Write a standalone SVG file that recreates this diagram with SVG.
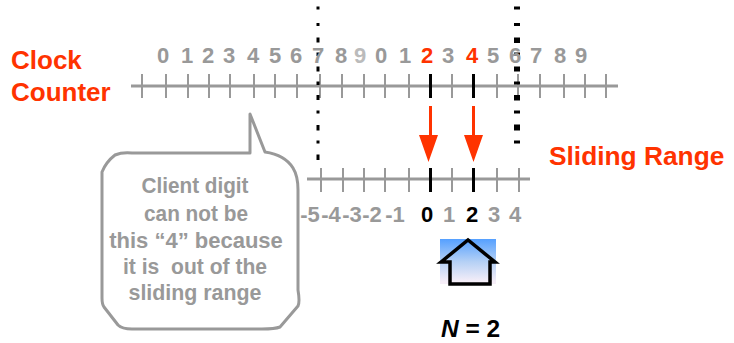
<svg xmlns="http://www.w3.org/2000/svg" width="734" height="343" viewBox="0 0 734 343">
<style>
text{font-family:"Liberation Sans",Arial,sans-serif;font-weight:700}
.d{font-size:22px;fill:#999;text-anchor:middle}
.l{font-size:26px;fill:#ff3300}
.c{font-size:22px;fill:#999;text-anchor:middle;white-space:pre}
.ax{stroke:#999;stroke-width:3;fill:none}
.t{stroke:#999;stroke-width:2;fill:none}
.k{stroke:#000;stroke-width:3;fill:none}
</style>
<defs>
<linearGradient id="sky" x1="0" y1="0" x2="0" y2="1">
<stop offset="0" stop-color="#55a0ff"/><stop offset="0.5" stop-color="#b4d0f5"/><stop offset="0.95" stop-color="#f6eef8"/>
</linearGradient>
</defs>
<rect width="734" height="343" fill="#fff"/>
<g id="connectors">
<path class="ax" d="M131 86H618"/>
<path class="t" d="M142 74V98M166 74V98M188 74V98M209 74V98M230 74V98M254 74V98M275 74V98M297 74V98M320 74V98M342 74V98M364 74V98M385 74V98M409 74V98M452 74V98M497 74V98M518 74V98M540 74V98M564 74V98M585 74V98M606 74V98"/>
<path class="k" d="M430.500 74V98M473.500 74V98"/>
<path class="ax" d="M307 179H530"/>
<path class="t" d="M321 168V192M343 168V192M364 168V192M385 168V192M409 168V192M452 168V192M497 168V192M519 168V192"/>
<path class="k" d="M430.500 168V192M473.500 168V192"/>
<path stroke="#000" stroke-width="3" fill="none" d="M318 6.500V9.500M318 23V26M318 37.500V42.500M318 52.500V56M318 66.500V71.500M318 81.500V85M318 95V100M318 110.500V113.500M318 125V130.500M318 140.500V143.500M318 154.500V160"/>
<path stroke="#000" stroke-width="6" fill="none" d="M517 6.500V9.500M517 23V26M517 37.500V43M517 52.500V55.500M517 66.500V71.500M517 81.500V84.500M517 95V100.500M517 110.500V113.500M517 124.500V130.500M517 140.500V143.500"/>
<path stroke="#ff3300" stroke-width="3" fill="none" d="M430.500 106V136M473.500 106V136"/>
<path fill="#ff3300" d="M419 135H438L428.500 162ZM464 135H483L473.500 162Z"/>
</g>
<g id="clock-counter-label">
<text class="l" x="11" y="69">Clock</text>
<text class="l" x="11" y="101">Counter</text>
</g>
<g id="clock-digits">
<text class="d" x="163" y="63">0</text><text class="d" x="187" y="63">1</text><text class="d" x="208" y="63">2</text><text class="d" x="229" y="63">3</text><text class="d" x="253" y="63">4</text><text class="d" x="275" y="63">5</text><text class="d" x="296" y="63">6</text><text class="d" x="318" y="63">7</text><text class="d" x="341" y="63">8</text><text class="d" x="360" y="63" style="fill:#bbb">9</text>
<text class="d" x="381" y="63">0</text><text class="d" x="405" y="63">1</text><text class="d" x="427" y="63" style="fill:#ff3300">2</text><text class="d" x="448" y="63">3</text><text class="d" x="472" y="63" style="fill:#ff3300">4</text><text class="d" x="493" y="63">5</text><text class="d" x="515" y="63">6</text><text class="d" x="536" y="63">7</text><text class="d" x="560" y="63">8</text><text class="d" x="581" y="63">9</text>
</g>
<g id="sliding-range-label"><text class="l" x="549" y="165" style="font-size:26.300px">Sliding Range</text></g>
<g id="sliding-digits">
<text class="d" x="310" y="222">-5</text><text class="d" x="331" y="222">-4</text><text class="d" x="352" y="222">-3</text><text class="d" x="372" y="222">-2</text><text class="d" x="395" y="222">-1</text>
<text class="d" x="427" y="222" style="fill:#000">0</text><text class="d" x="449" y="222">1</text><text class="d" x="472" y="222" style="fill:#000">2</text><text class="d" x="494" y="222">3</text><text class="d" x="515" y="222">4</text>
</g>
<g id="callout">
<path fill="#fff" stroke="#999" stroke-width="3" stroke-linejoin="round" d="M250 114L265 152Q285 155 293 168Q298 176 298 190V290Q300 302 298 306L280 327Q275 329 262 329H132Q122 329 118 325L104 307Q102 304 102 298V172Q106 162 115 155Q122 152 132 153H250Z"/>
<text class="c" x="195" y="193" textLength="107" lengthAdjust="spacingAndGlyphs">Client digit</text>
<text class="c" x="196" y="221" textLength="104" lengthAdjust="spacingAndGlyphs">can not be</text>
<text class="c" x="196" y="248">this “4” because</text>
<text class="c" x="195" y="274" textLength="144" lengthAdjust="spacingAndGlyphs">it is  out of the</text>
<text class="c" x="195" y="300" textLength="133" lengthAdjust="spacingAndGlyphs">sliding range</text>
</g>
<g id="house">
<rect x="440" y="239" width="56" height="45" fill="url(#sky)"/>
<path fill="none" stroke="#000" stroke-width="3.500" d="M441 262L468 240L495 262H490V284H450V262Z"/>
</g>
<g id="n-label"><text x="441" y="337" style="font-size:24.500px;fill:#000"><tspan font-style="italic">N</tspan> = 2</text></g>
</svg>
